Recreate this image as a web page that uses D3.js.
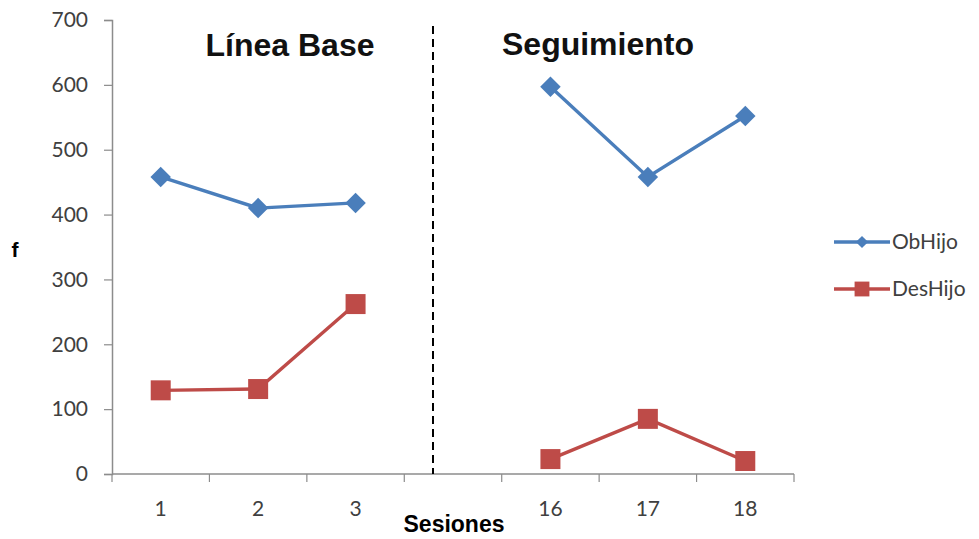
<!DOCTYPE html>
<html>
<head>
<meta charset="utf-8">
<script src="https://cdn.jsdelivr.net/npm/d3@7"></script>
<style>
  html, body { margin: 0; padding: 0; background: #fff; }
  svg { display: block; }
</style>
</head>
<body>
<svg id="chart" width="979" height="539"></svg>
<script>
// Sessions (the empty slot separates baseline from follow-up)
const sessions = ["1", "2", "3", "", "16", "17", "18"];
const obHijo   = [458, 410, 418, null, 597, 458, 552];
const desHijo  = [129, 131, 262, null, 23, 85, 20];
const yTicks   = [0, 100, 200, 300, 400, 500, 600, 700];
const seriesNames = ["ObHijo", "DesHijo"];
const phaseLabels = ["Línea Base", "Seguimiento"];

const svg = d3.select("#chart");
const margin = { left: 112, right: 185, top: 20, bottom: 65 };
const W = 979, H = 539;

const x = d3.scaleBand().domain(d3.range(sessions.length))
  .range([margin.left, W - margin.right]).padding(0);
const y = d3.scaleLinear().domain([0, 700]).range([H - margin.bottom, margin.top]);

const axisColor = "#8c8c8c";
const tickFont = "Lato, 'Open Sans', sans-serif";
const boldFont = "Arial, 'Liberation Sans', sans-serif";

// Y axis
const yAxis = svg.append("g").attr("transform", `translate(${margin.left},0)`)
  .call(d3.axisLeft(y).tickValues(yTicks).tickSize(8).tickPadding(16).tickFormat(d3.format("d")));
yAxis.select(".domain").attr("stroke", axisColor).attr("stroke-width", 1.5);
yAxis.selectAll(".tick line").attr("stroke", axisColor).attr("stroke-width", 1.2);
yAxis.selectAll("text").attr("fill", "#404040").style("font-family", tickFont).style("font-size", "21px");

// X axis: ticks at band boundaries, labels at band centres
const xg = svg.append("g").attr("transform", `translate(0,${y(0)})`);
xg.append("line").attr("x1", margin.left).attr("x2", W - margin.right)
  .attr("stroke", axisColor).attr("stroke-width", 1.5);
const bounds = d3.range(sessions.length + 1).map(i => i < sessions.length ? x(i) : x(sessions.length - 1) + x.bandwidth());
xg.selectAll(".xt").data(bounds).join("line")
  .attr("x1", d => d).attr("x2", d => d).attr("y1", 0).attr("y2", 8)
  .attr("stroke", axisColor).attr("stroke-width", 1.2);
xg.selectAll(".xl").data(sessions).join("text")
  .attr("x", (d, i) => x(i) + x.bandwidth() / 2).attr("y", 42)
  .attr("text-anchor", "middle").attr("fill", "#404040")
  .style("font-family", tickFont).style("font-size", "21px")
  .text(d => d);

// Phase separator
svg.append("line").attr("x1", 433).attr("x2", 433).attr("y1", 26).attr("y2", y(0))
  .attr("stroke", "#000").attr("stroke-width", 2).attr("stroke-dasharray", "8,5");

// Phase titles
svg.append("text").attr("x", 290).attr("y", 56).attr("text-anchor", "middle")
  .style("font-family", boldFont).style("font-weight", "bold")
  .style("font-size", "32px").attr("fill", "#111").text(phaseLabels[0]);
svg.append("text").attr("x", 598).attr("y", 55).attr("text-anchor", "middle")
  .style("font-family", boldFont).style("font-weight", "bold")
  .style("font-size", "32px").attr("fill", "#111").text(phaseLabels[1]);

// Axis titles
svg.append("text").attr("x", 15).attr("y", 257).attr("text-anchor", "middle")
  .style("font-family", boldFont).style("font-weight", "bold")
  .style("font-size", "21px").attr("fill", "#000").text("f");
svg.append("text").attr("x", 454).attr("y", 532).attr("text-anchor", "middle")
  .style("font-family", boldFont).style("font-weight", "bold")
  .style("font-size", "23px").attr("fill", "#000").text("Sesiones");

const blue = "#4a7ebb", red = "#be4b48";
const cx = i => x(i) + x.bandwidth() / 2;
const line = d3.line().defined(d => d.v !== null).x(d => cx(d.i)).y(d => y(d.v));

function drawSeries(vals, color, shape, size) {
  const pts = vals.map((v, i) => ({ v, i }));
  svg.append("path").datum(pts).attr("d", line)
    .attr("fill", "none").attr("stroke", color).attr("stroke-width", 3.4);
  svg.selectAll(null).data(pts.filter(d => d.v !== null)).join("path")
    .attr("transform", d => `translate(${cx(d.i)},${y(d.v)})`)
    .attr("d", d3.symbol(shape, size))
    .attr("fill", color);
}
const diamond = { draw(ctx, s) { const r = Math.sqrt(s) / 2; ctx.moveTo(0, -r); ctx.lineTo(r, 0); ctx.lineTo(0, r); ctx.lineTo(-r, 0); ctx.closePath(); } };
drawSeries(obHijo, blue, diamond, 420);
drawSeries(desHijo, red, d3.symbolSquare, 400);

// Legend
const legend = svg.append("g");
const legendY = [242, 289];
const legendColors = [blue, red];
const legendShapes = [[diamond, 150], [d3.symbolSquare, 220]];
seriesNames.forEach((name, k) => {
  legend.append("line").attr("x1", 834).attr("x2", 890).attr("y1", legendY[k]).attr("y2", legendY[k])
    .attr("stroke", legendColors[k]).attr("stroke-width", 3.4);
  legend.append("path").attr("transform", `translate(862,${legendY[k]})`)
    .attr("d", d3.symbol(legendShapes[k][0], legendShapes[k][1])).attr("fill", legendColors[k]);
  legend.append("text").attr("x", 892).attr("y", legendY[k] + 7)
    .style("font-family", tickFont).style("font-size", "21px").attr("fill", "#404040").text(name);
});
</script>
</body>
</html>
